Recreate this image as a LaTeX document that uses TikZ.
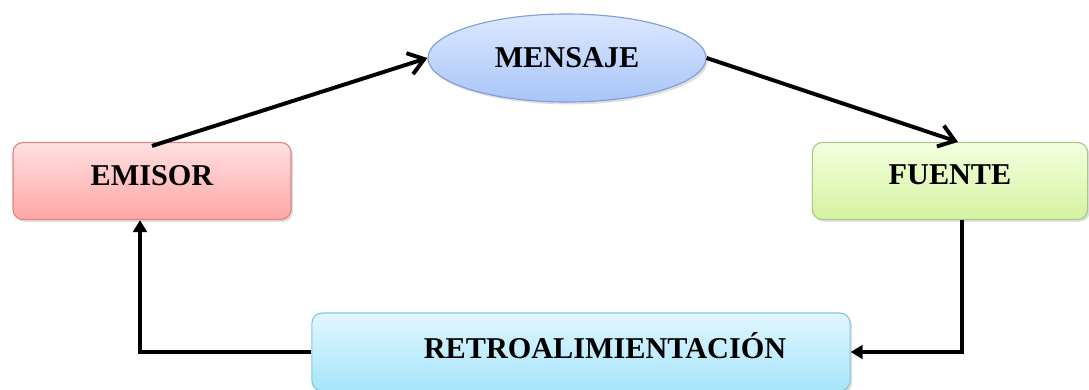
\documentclass[tikz,border=0pt]{standalone}
\usepackage{fontspec}
\setmainfont{Liberation Serif}
\usetikzlibrary{shapes,arrows.meta,positioning,shadows}

\definecolor{rojoA}{HTML}{FFE0E0}
\definecolor{rojoB}{HTML}{FFA6A6}
\definecolor{rojoC}{HTML}{D98585}
\definecolor{azulA}{HTML}{DDE8FF}
\definecolor{azulB}{HTML}{A8C5F8}
\definecolor{azulC}{HTML}{7F9ED6}
\definecolor{verdeA}{HTML}{F4FFDE}
\definecolor{verdeB}{HTML}{D5F2A0}
\definecolor{verdeC}{HTML}{A9C888}
\definecolor{celesteA}{HTML}{E0F6FF}
\definecolor{celesteB}{HTML}{A6E5FA}
\definecolor{celesteC}{HTML}{86C6DD}

\begin{document}
\begin{tikzpicture}[
    x=0.025cm, y=-0.025cm,
    caja/.style={rectangle, rounded corners=0.25cm, draw, line width=0.8pt, minimum width=6.95cm, minimum height=1.925cm, text depth=0.3cm, font=\fontsize{21.5}{25}\selectfont\bfseries, drop shadow={opacity=0.25, shadow xshift=0.05cm, shadow yshift=-0.06cm}},
    nube/.style={ellipse, draw, line width=0.8pt, minimum width=6.95cm, minimum height=2.2cm, font=\fontsize{21.5}{25}\selectfont\bfseries, drop shadow={opacity=0.25, shadow xshift=0.05cm, shadow yshift=-0.06cm}},
    flecha/.style={-{Straight Barb[length=0.38cm,width=0.55cm]}, line width=2.8pt},
    linea/.style={-{Triangle[length=0.3cm,width=0.34cm]}, line width=2.8pt}
]
    \useasboundingbox (0,0) rectangle (1089,389);

    \node[caja, top color=rojoA, bottom color=rojoB, draw=rojoC] (emisor) at (152,181) {EMISOR};
    \node[nube, top color=azulA, bottom color=azulB, draw=azulC] (mensaje) at (567,58) {MENSAJE};
    \node[caja, top color=verdeA, bottom color=verdeB, draw=verdeC, minimum width=6.88cm] (fuente) at (950,181) {FUENTE};
    \node[caja, top color=celesteA, bottom color=celesteB, draw=celesteC, minimum width=13.45cm, minimum height=1.95cm] (retro) at (581,352) {\hspace*{1.2cm}RETROALIMIENTACIÓN};

    \draw[flecha] ([yshift=-0.1cm]emisor.north) -- (mensaje.west);
    \draw[flecha] (mensaje.east) -- ([xshift=0.2cm]fuente.north);
    \draw[linea] ([xshift=0.3cm]fuente.south) |- (retro.east);
    \draw[linea] (retro.west) -| ([xshift=-0.3cm]emisor.south);
\end{tikzpicture}
\end{document}
